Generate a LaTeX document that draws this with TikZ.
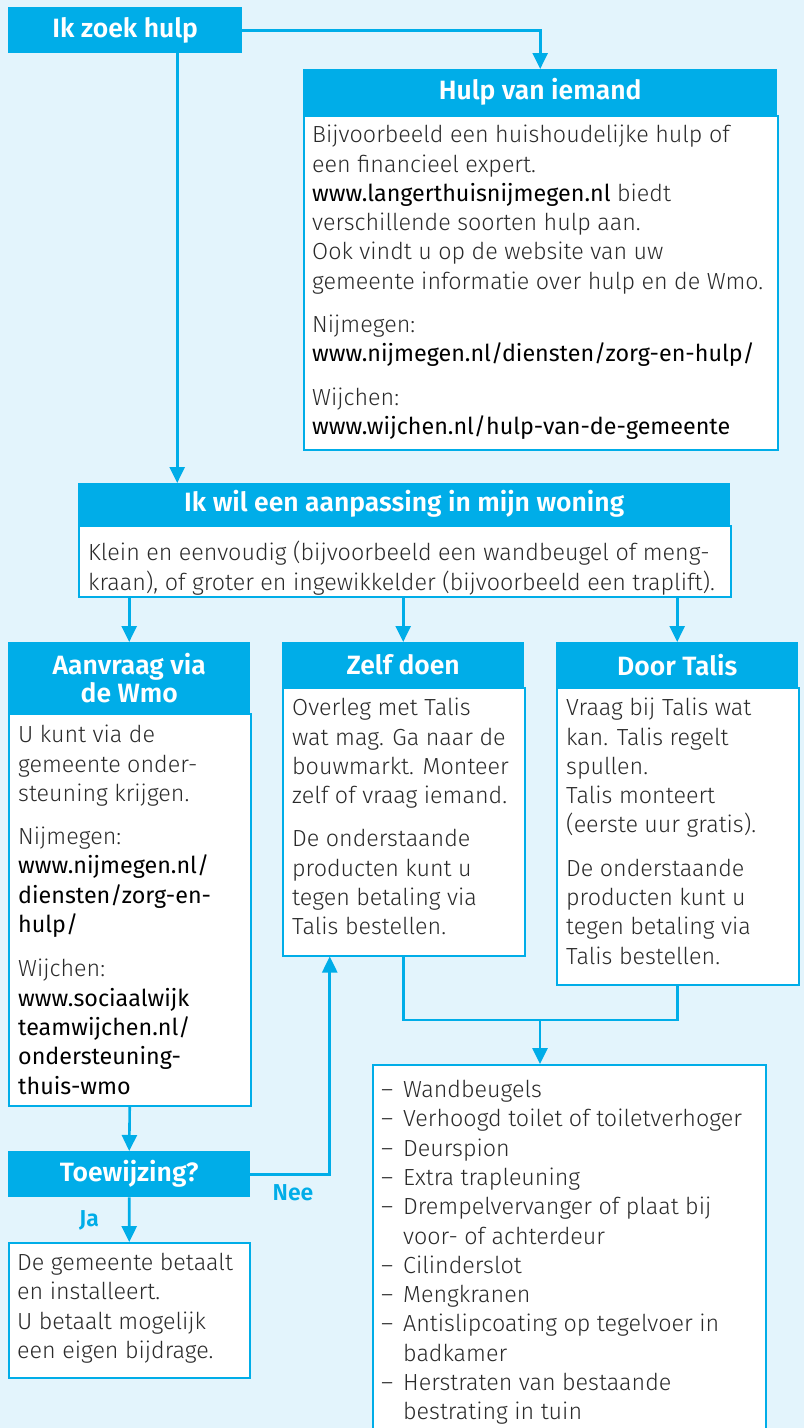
\documentclass[tikz,border=0pt]{standalone}
\usepackage{fontspec}
\usetikzlibrary{arrows.meta}
\IfFontExistsTF{Fira Sans Light}{\newfontfamily\bodyf{Fira Sans Light}}{%
  \IfFontExistsTF{FiraSans-Light.otf}{\newfontfamily\bodyf{FiraSans-Light.otf}}{\newfontfamily\bodyf{Fira Sans}}}
\newfontfamily\urlf{Fira Sans}
\IfFontExistsTF{Fira Sans SemiBold}{\newfontfamily\hdrf{Fira Sans SemiBold}}{%
  \IfFontExistsTF{FiraSans-SemiBold.otf}{\newfontfamily\hdrf{FiraSans-SemiBold.otf}}{\newcommand\hdrf{\urlf\bfseries}}}
\newcommand\urlt[1]{{\urlf\color{black}#1}}
\newcommand\fst{\rule{0pt}{17pt}}
\definecolor{cy}{HTML}{00ADE8}
\definecolor{bgc}{HTML}{E3F4FC}
\definecolor{ink}{HTML}{2A2A2A}
\begin{document}
\begin{tikzpicture}[x=1pt,y=-1pt,
  hdr/.style={fill=cy, text=white, inner sep=0pt, anchor=north west, align=center,
    font=\hdrf\fontsize{26.5}{28}\selectfont},
  box/.style={draw=cy, line width=1.5pt, fill=white, inner sep=0pt, anchor=north west},
  txt/.style={inner sep=0pt, anchor=north west, align=left, text=ink,
    font=\bodyf\fontsize{23.3}{29.3}\selectfont},
  line/.style={draw=cy, line width=2.6pt},
  conn/.style={line, -{Triangle[length=16pt,width=15pt]}},
  lbl/.style={text=cy, inner sep=0pt, font=\hdrf\fontsize{23}{25}\selectfont}]
\useasboundingbox (0,0) rectangle (804,1428);
\fill[bgc] (0,0) rectangle (804,1428);

% boxes
\node[box, minimum width=474pt, minimum height=334pt] (hulpb) at (303,115) {};
\node[hdr, minimum width=474pt, minimum height=46pt] (hulp) at (303,69) {Hulp van iemand};
\node[hdr, minimum width=234pt, minimum height=46pt] (zoek) at (8,7) {Ik zoek hulp};

\node[box, minimum width=652pt, minimum height=71pt] (ikwilb) at (78,525) {};
\node[hdr, minimum width=652pt, minimum height=42pt] (ikwil) at (78,483) {Ik wil een aanpassing in mijn woning};

\node[box, minimum width=242pt, minimum height=392pt] (aanvb) at (8,713) {};
\node[hdr, minimum width=242pt, minimum height=71pt] (aanv) at (8,642) {Aanvraag via\\de Wmo};

\node[box, minimum width=242pt, minimum height=268pt] (zelfb) at (282,687) {};
\node[hdr, minimum width=242pt, minimum height=45pt] (zelf) at (282,642) {Zelf doen};

\node[box, minimum width=242pt, minimum height=297pt] (talisb) at (556,687) {};
\node[hdr, minimum width=242pt, minimum height=45pt] (talis) at (556,642) {Door Talis};

\node[hdr, minimum width=242pt, minimum height=46pt] (toew) at (8,1151) {Toewijzing?};
\node[box, minimum width=241pt, minimum height=135pt] (fin) at (8,1242) {};

\node[box, minimum width=393pt, minimum height=400pt] (list) at (372,1064) {};

% texts
\node[txt] (hulpt) at (312,125) {\fst Bijvoorbeeld een huishoudelijke hulp of\\
een financieel expert.\\
\urlt{www.langerthuisnijmegen.nl} biedt\\
verschillende soorten hulp aan.\\
Ook vindt u op de website van uw\\
gemeente informatie over hulp en de Wmo.\\[14pt]
Nijmegen:\\
\urlt{www.nijmegen.nl/diensten/zorg-en-hulp/}\\[14pt]
Wijchen:\\
\urlt{www.wijchen.nl/hulp-van-de-gemeente}};

\node[txt] (ikwilt) at (88,541) {\fst Klein en eenvoudig (bijvoorbeeld een wandbeugel of meng-\\
kraan), of groter en ingewikkelder (bijvoorbeeld een traplift).};

\node[txt] (aanvt) at (18,725) {\fst U kunt via de\\gemeente onder-\\steuning krijgen.\\[14pt]
Nijmegen:\\\urlt{www.nijmegen.nl/}\\\urlt{diensten/zorg-en-}\\\urlt{hulp/}\\[15pt]
Wijchen:\\\urlt{www.sociaalwijk}\\\urlt{teamwijchen.nl/}\\\urlt{ondersteuning-}\\\urlt{thuis-wmo}};

\node[txt] (zelft) at (292,698) {\fst Overleg met Talis\\wat mag. Ga naar de\\bouwmarkt. Monteer\\zelf of vraag iemand.\\[14pt]
De onderstaande\\producten kunt u\\tegen betaling via\\Talis bestellen.};

\node[txt] (talist) at (566,698) {\fst Vraag bij Talis wat\\kan. Talis regelt\\spullen.\\Talis monteert\\(eerste uur gratis).\\[14pt]
De onderstaande\\producten kunt u\\tegen betaling via\\Talis bestellen.};

\node[txt] (fint) at (17,1253) {\fst De gemeente betaalt\\en installeert.\\U betaalt mogelijk\\een eigen bijdrage.};

\node[txt] (listt) at (381,1080) {\fst\makebox[22pt][l]{–}Wandbeugels\\
\makebox[22pt][l]{–}Verhoogd toilet of toiletverhoger\\
\makebox[22pt][l]{–}Deurspion\\
\makebox[22pt][l]{–}Extra trapleuning\\
\makebox[22pt][l]{–}Drempelvervanger of plaat bij\\
\hspace*{22pt}voor- of achterdeur\\
\makebox[22pt][l]{–}Cilinderslot\\
\makebox[22pt][l]{–}Mengkranen\\
\makebox[22pt][l]{–}Antislipcoating op tegelvoer in\\
\hspace*{22pt}badkamer\\
\makebox[22pt][l]{–}Herstraten van bestaande\\
\hspace*{22pt}bestrating in tuin};

% connectors
\draw[conn] (zoek.east) -| (hulp.north);
\draw[conn] ([xshift=52pt]zoek.south) -- ([xshift=52pt]zoek.south |- ikwil.north);
\draw[conn] (ikwilb.south -| aanv.north) -- (aanv.north);
\draw[conn] (ikwilb.south -| zelf.north) -- (zelf.north);
\draw[conn] (ikwilb.south -| talis.north) -- (talis.north);
\draw[conn] (aanvb.south) -- (toew.north);
\draw[conn] (toew.east) -| ([xshift=-74pt]zelfb.south);
\draw[conn] (toew.south) -- (fin.north);
\coordinate (j) at (540,1020);
\draw[line] (zelfb.south) |- (j);
\draw[line] (talisb.south) |- (j);
\draw[conn] (j) -- (j |- list.north);

\node[lbl] (nee) at (293,1193) {Nee};
\node[lbl] (ja) at (89,1220) {Ja};
\end{tikzpicture}
\end{document}
